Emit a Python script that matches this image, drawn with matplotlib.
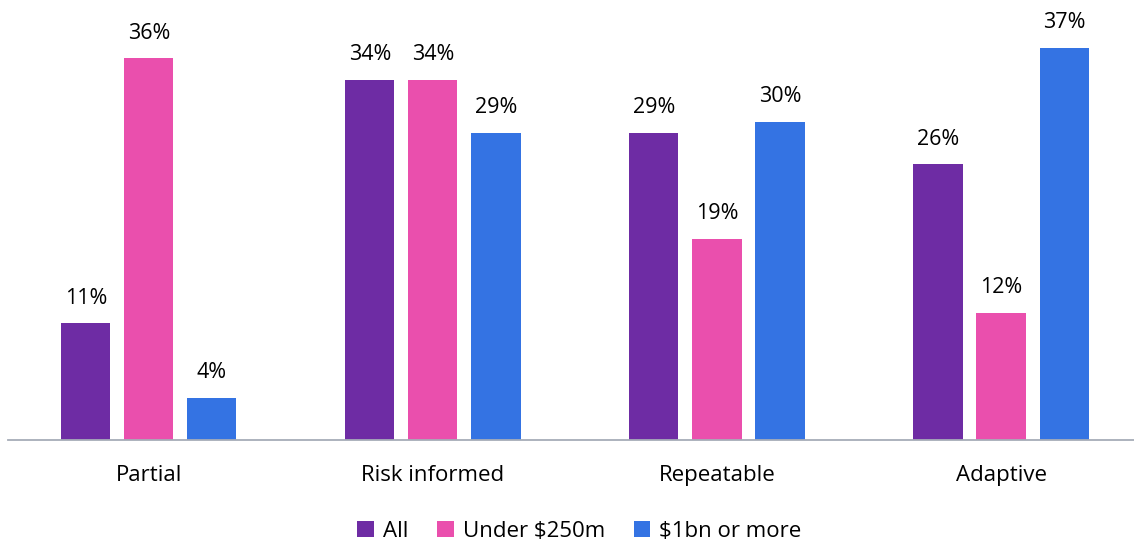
import matplotlib
matplotlib.use("Agg")
import matplotlib.pyplot as plt
import numpy as np

plt.rcParams['font.family'] = ['Open Sans', 'DejaVu Sans']

categories = ["Partial", "Risk informed", "Repeatable", "Adaptive"]
series_names = ["All", "Under $250m", "$1bn or more"]
all_vals = [11, 34, 29, 26]
under_250m = [36, 34, 19, 12]
over_1bn = [4, 29, 30, 37]
colors = ["#6E2CA4", "#EA4FAD", "#3473E3"]

fig = plt.figure(figsize=(11.34, 5.43), dpi=100)
ax = fig.add_axes([0.007, 0.1897, 0.993, 0.781])

x = np.arange(len(categories))
width = 0.173
offset = 0.222
for i, (name, vals) in enumerate(zip(series_names, [all_vals, under_250m, over_1bn])):
    pos = x + (i - 1) * offset
    bars = ax.bar(pos, vals, width, color=colors[i], label=name, zorder=2)
    for b, v in zip(bars, vals):
        ax.annotate(f"{v}%", (b.get_x() + b.get_width() / 2, v),
                    xytext=(0, 10.5), textcoords="offset points",
                    ha="center", va="bottom", fontsize=15.5, color="#000000")

ax.set_xlim(-0.496, 3.468)
ax.set_ylim(0, 40)
for s in ["top", "right", "left"]:
    ax.spines[s].set_visible(False)
ax.spines["bottom"].set_color("#A6ACB8")
ax.spines["bottom"].set_linewidth(1.3)
ax.set_yticks([])
ax.set_xticks(x)
ax.set_xticklabels(categories, fontsize=16)
ax.tick_params(axis="x", length=0, pad=18)

fig.legend(loc="center", bbox_to_anchor=(0.511, 0.022), ncol=3, frameon=False,
           fontsize=16, handlelength=0.75, handleheight=0.75, handletextpad=0.4,
           columnspacing=1.3)

fig.savefig("out.png", dpi=100)
